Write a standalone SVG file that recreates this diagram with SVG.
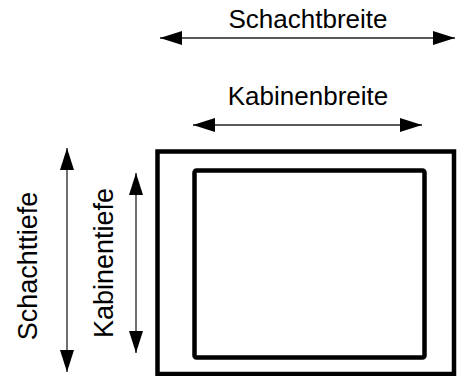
<svg xmlns="http://www.w3.org/2000/svg" width="457" height="376" viewBox="0 0 457 376">
<defs>
<marker id="ah" viewBox="0 0 22 14" refX="22" refY="7" markerWidth="22" markerHeight="14" markerUnits="userSpaceOnUse" orient="auto-start-reverse">
<path d="M0,0 L22,7 L0,14 Z" fill="#000"/>
</marker>
</defs>
<style>
.lbl{font-family:"Liberation Sans",Arial,sans-serif;font-size:26px;fill:#000}
.vl{font-size:27px}
.dim{stroke:#222;stroke-width:1.3;fill:none;marker-start:url(#ah);marker-end:url(#ah)}
.wall{fill:none;stroke:#000;stroke-width:4.5}
</style>
<rect width="457" height="376" fill="#fff"/>
<g id="schacht">
<rect class="wall" x="157.5" y="151.5" width="296.5" height="222.5"/>
</g>
<g id="kabine">
<rect class="wall" x="194.5" y="170.5" width="230" height="187" rx="2"/>
</g>
<g id="connectors">
<line class="dim" x1="160" y1="38" x2="455" y2="38"/>
<line class="dim" x1="193" y1="125" x2="422" y2="125"/>
<line class="dim" x1="67" y1="148" x2="67" y2="372"/>
<line class="dim" x1="136" y1="173" x2="136" y2="353"/>
</g>
<g id="labels">
<text class="lbl" x="308" y="28" text-anchor="middle">Schachtbreite</text>
<text class="lbl" x="308" y="105" text-anchor="middle">Kabinenbreite</text>
<text class="lbl vl" transform="translate(37,266) rotate(-90)" text-anchor="middle">Schachttiefe</text>
<text class="lbl vl" transform="translate(113,263) rotate(-90)" text-anchor="middle">Kabinentiefe</text>
</g>
</svg>
